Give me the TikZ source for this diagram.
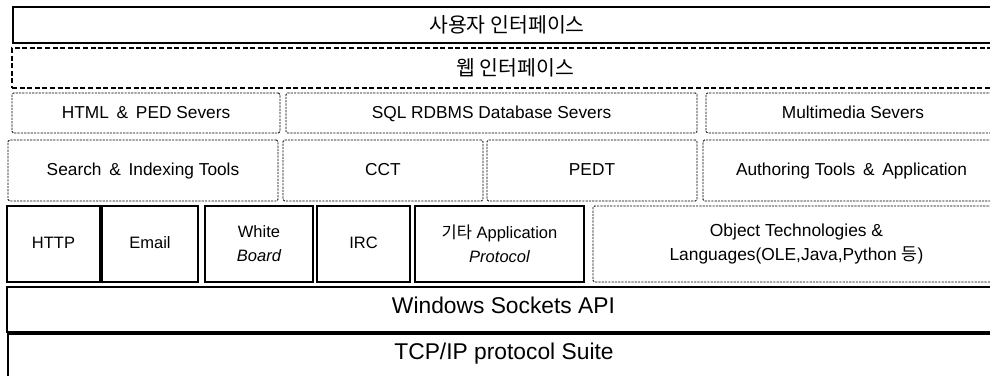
\documentclass[tikz,border=0pt]{standalone}
\usepackage{fontspec}
\setmainfont{Liberation Sans}
\newfontfamily\kr{Noto Sans CJK KR}
\newcommand{\wamp}{\hspace{0.45em}\&\hspace{0.45em}}
\begin{document}
\begin{tikzpicture}[x=1pt,y=-1pt,
  solidbox/.style={draw=black, line width=1.4pt, inner sep=0pt},
  webbox/.style={draw=black, line width=1.2pt, dash pattern=on 5pt off 2.6pt, inner sep=0pt},
  dotbox/.style={draw=black, line width=0.9pt, dash pattern=on 2.2pt off 1.1pt, rounded corners=1.5pt, inner sep=0pt},
  protbox/.style={draw=black, line width=1.3pt, inner sep=0pt},
  krtxt/.style={font=\kr\fontsize{20.5}{24}\selectfont},
  midtxt/.style={font=\fontsize{17.3}{22}\selectfont, text height=1em, text depth=0pt},
  smtxt/.style={font=\fontsize{16.5}{24}\selectfont, text height=0.9em, text depth=0pt},
  twoline/.style={font=\fontsize{16.5}{24}\selectfont, align=center},
  bigtxt/.style={font=\fontsize{22.8}{27}\selectfont, text height=0.85em, text depth=0pt}]
\useasboundingbox (0,0) rectangle (990,376);
\clip (0,0) rectangle (990,376);
\fill[white] (0,0) rectangle (990,376);

% user interface and web interface layers
\node[solidbox, krtxt, minimum width=988, minimum height=36] (ui) at (507,25) {사용자 인터페이스};
\node[webbox, krtxt, minimum width=1006, minimum height=40] (web) at (515,68) {웹 인터페이스};

% server layer
\node[dotbox, midtxt, minimum width=268, minimum height=40] (html) at (146,113) {HTML\wamp PED Severs};
\node[dotbox, midtxt, minimum width=411, minimum height=40] (sql) at (491.5,113) {SQL RDBMS Database Severs};
\node[dotbox, midtxt, minimum width=294, minimum height=40] (mm) at (853,113) {Multimedia Severs};

% tools layer
\node[dotbox, midtxt, minimum width=270, minimum height=61] (search) at (143,170.5) {Search\wamp Indexing Tools};
\node[dotbox, midtxt, minimum width=200, minimum height=61] (cct) at (383,170.5) {CCT};
\node[dotbox, midtxt, minimum width=210, minimum height=61] (pedt) at (592,170.5) {PEDT};
\node[dotbox, midtxt, minimum width=297, minimum height=61] (auth) at (851.5,170.5) {Authoring Tools\wamp Application};

% protocol layer
\node[protbox, smtxt, minimum width=93, minimum height=76] (http) at (53.5,244) {HTTP};
\node[protbox, smtxt, minimum width=96, minimum height=76] (email) at (150,244) {Email};
\node[protbox, twoline, minimum width=108, minimum height=76] (wb) at (259,244) {White\\\itshape Board};
\node[protbox, smtxt, minimum width=93, minimum height=76] (irc) at (363.5,244) {IRC};
\node[protbox, twoline, minimum width=169, minimum height=76] (etc) at (499.5,244) {{\kr 기타} Application\\\itshape Protocol};
\node[dotbox, twoline, font=\fontsize{17.4}{24}\selectfont, minimum width=407, minimum height=76] (obj) at (796.5,244) {Object Technologies \&\\Languages(OLE,Java,Python {\kr 등})};

% sockets and transport layers
\node[solidbox, bigtxt, minimum width=993, minimum height=45] (sock) at (503.5,309.5) {Windows Sockets API};
\node[bigtxt, inner sep=0pt, minimum width=992, minimum height=42] (tcp) at (504,355) {TCP/IP protocol Suite};
\draw[line width=1.4pt] (tcp.north east) -- (tcp.north west) -- (tcp.south west);
\end{tikzpicture}
\end{document}
